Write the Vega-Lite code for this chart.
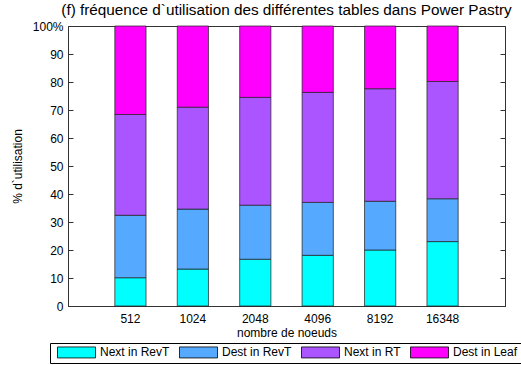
{
  "$schema": "https://vega.github.io/schema/vega-lite/v6.json",
  "autosize": "none",
  "width": 437,
  "height": 280,
  "padding": {"left": 68, "top": 26, "right": 16, "bottom": 59},
  "background": "white",
  "config": {
    "font": "Liberation Sans",
    "view": {"stroke": "#333333", "strokeWidth": 1},
    "axis": {"domainColor": "#333333", "tickColor": "#333333", "labelColor": "black", "titleColor": "black", "labelFont": "Liberation Sans", "titleFont": "Liberation Sans", "labelFontSize": 12, "titleFontSize": 12, "titleFontWeight": "normal", "grid": false},
    "legend": {"labelFont": "Liberation Sans", "labelFontSize": 12, "labelColor": "black"}
  },
  "title": {
    "text": "(f) fréquence d`utilisation des différentes tables dans Power Pastry",
    "font": "Liberation Sans",
    "fontSize": 15.3,
    "fontWeight": "normal",
    "color": "black",
    "anchor": "middle",
    "offset": 2
  },
  "data": {
    "values": [
      {"noeuds": "512", "table": "Next in RevT", "pct": 10.1},
      {"noeuds": "512", "table": "Dest in RevT", "pct": 22.3},
      {"noeuds": "512", "table": "Next in RT", "pct": 36.0},
      {"noeuds": "512", "table": "Dest in Leaf", "pct": 31.6},
      {"noeuds": "1024", "table": "Next in RevT", "pct": 13.2},
      {"noeuds": "1024", "table": "Dest in RevT", "pct": 21.4},
      {"noeuds": "1024", "table": "Next in RT", "pct": 36.4},
      {"noeuds": "1024", "table": "Dest in Leaf", "pct": 29.0},
      {"noeuds": "2048", "table": "Next in RevT", "pct": 16.7},
      {"noeuds": "2048", "table": "Dest in RevT", "pct": 19.3},
      {"noeuds": "2048", "table": "Next in RT", "pct": 38.5},
      {"noeuds": "2048", "table": "Dest in Leaf", "pct": 25.5},
      {"noeuds": "4096", "table": "Next in RevT", "pct": 18.1},
      {"noeuds": "4096", "table": "Dest in RevT", "pct": 18.9},
      {"noeuds": "4096", "table": "Next in RT", "pct": 39.3},
      {"noeuds": "4096", "table": "Dest in Leaf", "pct": 23.7},
      {"noeuds": "8192", "table": "Next in RevT", "pct": 20.0},
      {"noeuds": "8192", "table": "Dest in RevT", "pct": 17.4},
      {"noeuds": "8192", "table": "Next in RT", "pct": 40.2},
      {"noeuds": "8192", "table": "Dest in Leaf", "pct": 22.4},
      {"noeuds": "16348", "table": "Next in RevT", "pct": 23.0},
      {"noeuds": "16348", "table": "Dest in RevT", "pct": 15.3},
      {"noeuds": "16348", "table": "Next in RT", "pct": 41.9},
      {"noeuds": "16348", "table": "Dest in Leaf", "pct": 19.8}
    ]
  },
  "transform": [
    {"calculate": "indexof(['Next in RevT','Dest in RevT','Next in RT','Dest in Leaf'], datum.table)", "as": "ordre"}
  ],
  "encoding": {
    "x": {
      "field": "noeuds",
      "type": "nominal",
      "sort": ["512", "1024", "2048", "4096", "8192", "16348"],
      "scale": {"paddingInner": 0.5, "paddingOuter": 0.75},
      "axis": {"title": "nombre de noeuds", "labelAngle": 0, "ticks": false, "labelPadding": 7, "titlePadding": 3}
    },
    "y": {
      "field": "pct",
      "type": "quantitative",
      "stack": "zero",
      "scale": {"domain": [0, 100], "nice": false, "zero": true}
    },
    "order": {"field": "ordre", "type": "quantitative"}
  },
  "layer": [
    {
      "mark": {"type": "bar", "stroke": "#222222", "strokeWidth": 0.8, "strokeOpacity": 0.9},
      "encoding": {
        "y": {
          "field": "pct",
          "type": "quantitative",
          "stack": "zero",
          "axis": {
            "title": "% d`utilisation",
            "values": [0, 10, 20, 30, 40, 50, 60, 70, 80, 90, 100],
            "labelExpr": "datum.value == 100 ? '100%' : datum.label",
            "tickSize": -5,
            "labelPadding": 10,
            "titlePadding": 8
          }
        },
        "color": {
          "field": "table",
          "type": "nominal",
          "sort": ["Next in RevT", "Dest in RevT", "Next in RT", "Dest in Leaf"],
          "scale": {
            "domain": ["Next in RevT", "Dest in RevT", "Next in RT", "Dest in Leaf"],
            "range": ["#00FFFF", "#55AAFF", "#AA55FF", "#FF00FF"]
          },
          "legend": {
            "title": null,
            "orient": "none",
            "direction": "horizontal",
            "legendX": -18,
            "legendY": 317,
            "strokeColor": "black",
            "fillColor": "white",
            "padding": 3,
            "columnPadding": 5,
            "labelOffset": 35,
            "symbolType": "M-0.27,-1H6.64V1H-0.27Z",
            "symbolSize": 121,
            "symbolStrokeColor": "black",
            "symbolStrokeWidth": 0.8,
            "symbolOpacity": 1
          }
        }
      }
    },
    {
      "mark": {"type": "bar", "opacity": 0},
      "encoding": {
        "y": {
          "field": "pct",
          "type": "quantitative",
          "stack": "zero",
          "axis": {
            "orient": "right",
            "title": null,
            "labels": false,
            "values": [0, 10, 20, 30, 40, 50, 60, 70, 80, 90, 100],
            "tickSize": -5
          }
        }
      }
    }
  ],
  "resolve": {"axis": {"y": "independent"}}
}
